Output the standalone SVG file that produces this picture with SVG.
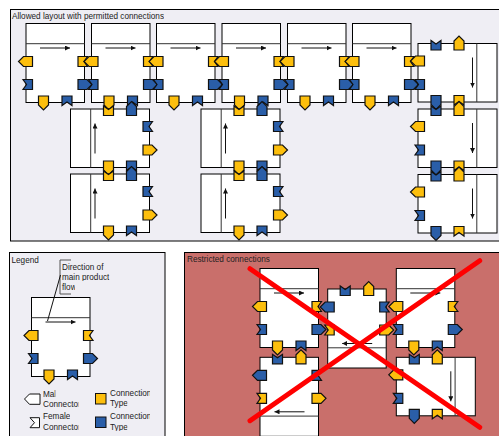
<svg xmlns="http://www.w3.org/2000/svg" width="499" height="436" viewBox="0 0 499 436">
<style>
text{font-family:"Liberation Sans",Arial,sans-serif;font-size:8.2px;fill:#222}
.panel{stroke:#000;stroke-width:1;fill:#efeef4}
.body{fill:#fff;stroke:#000;stroke-width:1}
.div{stroke:#333;stroke-width:1;fill:none}
.c{stroke:#111;stroke-width:1.200;stroke-linejoin:miter}
.y{fill:#fdbf0d}.b{fill:#2a5ea8}
.arrow{stroke:#111;stroke-width:1;fill:none;marker-end:url(#ah)}
.x{stroke:#f00;stroke-width:5;stroke-linecap:round;fill:none}
.note{stroke:#555;stroke-width:1;fill:none}
</style>
<defs>
<marker id="ah" markerUnits="userSpaceOnUse" markerWidth="6" markerHeight="6" refX="5" refY="2.500" orient="auto"><path d="M0,0L5,2.500L0,5Z" fill="#111"/></marker>
<path id="mm" class="c" d="M0,-5H-9L-14,0L-9,5H0Z"/>
<path id="fm" class="c" d="M0,-5H-9.500L-6,0L-9.500,5H0Z"/>
<g id="module">
<rect class="body" width="58.500" height="79"/>
<path class="div" d="M0,20.200H58.500"/>
<path class="arrow" d="M14,24.500H44"/>
<use href="#mm" class="y" transform="translate(6.500,38)"/>
<use href="#fm" class="b" transform="translate(6.500,61)"/>
<use href="#fm" class="y" transform="translate(52,38) rotate(180)"/>
<use href="#mm" class="b" transform="translate(52,61) rotate(180)"/>
<use href="#mm" class="y" transform="translate(17.500,72.500) rotate(-90)"/>
<use href="#fm" class="b" transform="translate(41,72.500) rotate(-90)"/>
</g>
<clipPath id="c1"><rect x="10" y="9" width="154" height="14"/></clipPath>
<clipPath id="cLeg"><rect x="10" y="253" width="29" height="12"/></clipPath>
<clipPath id="cD1"><rect x="61" y="262" width="48" height="9"/></clipPath>
<clipPath id="cD2"><rect x="61" y="272" width="48.500" height="9"/></clipPath>
<clipPath id="cD3"><rect x="61" y="282" width="14" height="9"/></clipPath>
<clipPath id="cM1"><rect x="42" y="389" width="13.500" height="9"/></clipPath>
<clipPath id="cM2"><rect x="42" y="399" width="36.500" height="10"/></clipPath>
<clipPath id="cF1"><rect x="42" y="411" width="28" height="9"/></clipPath>
<clipPath id="cF2"><rect x="42" y="421" width="36.500" height="10"/></clipPath>
<clipPath id="cT1"><rect x="109" y="388" width="41" height="9"/></clipPath>
<clipPath id="cT2"><rect x="109" y="398" width="18.500" height="10"/></clipPath>
<clipPath id="cT3"><rect x="109" y="411" width="41" height="9"/></clipPath>
<clipPath id="cT4"><rect x="109" y="421" width="18.500" height="10"/></clipPath>
</defs>

<g id="panel-allowed">
<rect class="panel" x="10.500" y="9.500" width="500" height="231.500"/>
<text x="12" y="18.500" clip-path="url(#c1)">Allowed layout with permitted connections</text>
</g>
<g id="a1" transform="translate(26,23.500)"><use href="#module"/></g>
<g id="a2" transform="translate(91.500,23.500)"><use href="#module"/></g>
<g id="a3" transform="translate(156.500,23.500)"><use href="#module"/></g>
<g id="a4" transform="translate(222,23.500)"><use href="#module"/></g>
<g id="a5" transform="translate(287.500,23.500)"><use href="#module"/></g>
<g id="a6" transform="translate(352.500,23.500)"><use href="#module"/></g>
<g id="a7" transform="translate(497,43.500) rotate(90)"><use href="#module"/></g>
<g id="a8" transform="translate(70.500,167.500) rotate(-90)"><use href="#module"/></g>
<g id="a9" transform="translate(201,167.500) rotate(-90)"><use href="#module"/></g>
<g id="a10" transform="translate(497,109) rotate(90)"><use href="#module"/></g>
<g id="a11" transform="translate(70.500,232.500) rotate(-90)"><use href="#module"/></g>
<g id="a12" transform="translate(201,232.500) rotate(-90)"><use href="#module"/></g>
<g id="a13" transform="translate(497,174.500) rotate(90)"><use href="#module"/></g>

<g id="panel-legend">
<rect class="panel" x="9.500" y="252.500" width="155.500" height="190"/>
<text x="11.500" y="263" clip-path="url(#cLeg)">Legend</text>
</g>
<g id="legend-module" transform="translate(31.500,297.500)"><use href="#module"/></g>
<g id="legend-note">
<path class="note" d="M71,260H60V294H71"/>
<path d="M60.500,275L47.500,321" stroke="#111" fill="none"/>
<text x="62" y="269.500" clip-path="url(#cD1)">Direction of</text>
<text x="62" y="279.500" clip-path="url(#cD2)">main product</text>
<text x="62" y="289.500" clip-path="url(#cD3)">flow</text>
</g>
<g id="legend-male">
<path d="M40,394H29.500L24.500,399L29.500,404.300H40Z" fill="#fff" stroke="#111"/>
<text x="43" y="396.500" clip-path="url(#cM1)">Male</text>
<text x="43" y="407" clip-path="url(#cM2)">Connector</text>
</g>
<g id="legend-female">
<path d="M39.500,417.700H30L34.500,422.700L30,427.700H39.500Z" fill="#fff" stroke="#111"/>
<text x="43" y="419" clip-path="url(#cF1)">Female</text>
<text x="43" y="429.500" clip-path="url(#cF2)">Connector</text>
</g>
<g id="legend-type1">
<rect class="y" x="95.500" y="393.500" width="10.500" height="10.500" stroke="#111"/>
<text x="110" y="395.500" clip-path="url(#cT1)">Connection</text>
<text x="110" y="406" clip-path="url(#cT2)">Type</text>
</g>
<g id="legend-type2">
<rect class="b" x="95.500" y="417" width="10.500" height="10.500" stroke="#111"/>
<text x="110" y="419" clip-path="url(#cT3)">Connection</text>
<text x="110" y="429.500" clip-path="url(#cT4)">Type</text>
</g>

<g id="panel-restricted">
<rect x="184.500" y="252.500" width="330" height="190" fill="#c96f6b" stroke="#000"/>
<text x="187" y="262">Restricted connections</text>
</g>
<g id="r1" transform="translate(260,268.500)"><use href="#module"/></g>
<g id="r2" transform="translate(386.200,368) rotate(180)"><use href="#module"/></g>
<g id="r3" transform="translate(396.300,268.500)"><use href="#module"/></g>
<g id="r4" transform="translate(318.500,436.300) rotate(180)"><use href="#module"/></g>
<g id="r5" transform="translate(475.300,357.300) rotate(90)"><use href="#module"/></g>
<g id="cross">
<path class="x" d="M250,268.700L479.700,427.300"/>
<path class="x" d="M250,420.700L479.700,260.700"/>
</g>
</svg>
